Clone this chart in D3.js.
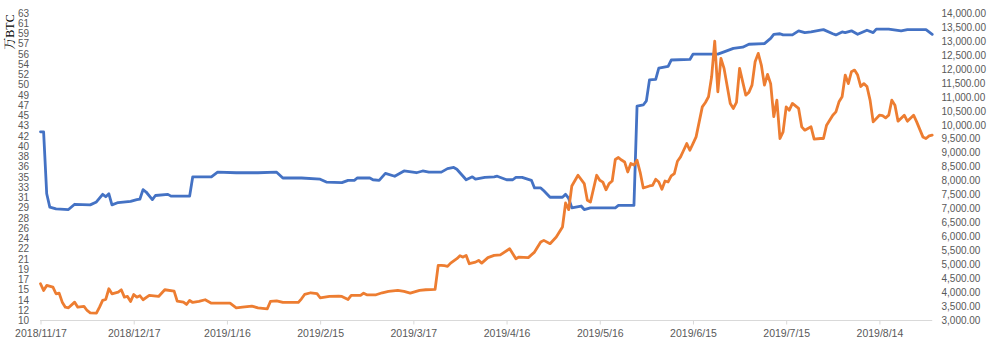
<!DOCTYPE html>
<html>
<head>
<meta charset="utf-8">
<script src="https://cdn.jsdelivr.net/npm/d3@7"></script>
<style>
  body { margin: 0; background: #fff; }
  .axis text { font-family: "Liberation Sans", Arial, sans-serif; fill: #595959; }
  .unit-title { font-family: "Liberation Serif", "Noto Serif CJK SC", "Noto Sans CJK SC", serif; fill: #000; }
</style>
</head>
<body>
<svg id="chart"></svg>
<script>
// x axis tick labels (every 30 days)
const xTickLabels = ['2018/11/17', '2018/12/17', '2019/1/16', '2019/2/15', '2019/3/17',
  '2019/4/16', '2019/5/16', '2019/6/15', '2019/7/15', '2019/8/14'];
const firstDay = '2018/11/17';
const lastDay = '2019/8/31';

// left axis (万BTC): labels shown at 31 evenly spaced lines between 10 and 62.65
const leftMin = 10;
const leftMax = 62.65;
const leftTickLabels = [10, 12, 14, 15, 17, 19, 21, 22, 24, 26, 28, 29, 31, 33, 35, 36,
  38, 40, 42, 43, 45, 47, 49, 50, 52, 54, 56, 57, 59, 61, 63];

// right axis (price)
const rightTicks = [3000, 3500, 4000, 4500, 5000, 5500, 6000, 6500, 7000, 7500, 8000, 8500,
  9000, 9500, 10000, 10500, 11000, 11500, 12000, 12500, 13000, 13500, 14000];

// blue series, left axis
const holdDates = [
  '2018/11/17', '2018/11/18', '2018/11/19', '2018/11/20', '2018/11/22', '2018/11/26', '2018/11/28',
  '2018/12/3', '2018/12/5', '2018/12/7', '2018/12/8', '2018/12/9', '2018/12/10', '2018/12/12', '2018/12/16',
  '2018/12/18', '2018/12/19', '2018/12/20', '2018/12/21', '2018/12/23', '2018/12/24', '2018/12/28', '2018/12/29',
  '2019/1/4', '2019/1/5', '2019/1/11', '2019/1/13', '2019/1/19', '2019/1/26',
  '2019/2/1', '2019/2/3', '2019/2/9', '2019/2/15', '2019/2/17', '2019/2/22', '2019/2/24', '2019/2/26', '2019/2/27',
  '2019/3/3', '2019/3/4', '2019/3/6', '2019/3/8', '2019/3/11', '2019/3/14', '2019/3/18', '2019/3/20', '2019/3/22',
  '2019/3/26', '2019/3/28', '2019/3/30', '2019/3/31',
  '2019/4/2', '2019/4/3', '2019/4/5', '2019/4/6', '2019/4/9', '2019/4/12', '2019/4/13', '2019/4/16', '2019/4/18',
  '2019/4/19', '2019/4/21', '2019/4/24', '2019/4/25', '2019/4/27', '2019/4/28', '2019/4/30',
  '2019/5/4', '2019/5/5', '2019/5/6', '2019/5/7', '2019/5/10', '2019/5/11', '2019/5/13', '2019/5/21', '2019/5/22',
  '2019/5/27', '2019/5/28', '2019/5/30', '2019/5/31',
  '2019/6/1', '2019/6/3', '2019/6/4', '2019/6/7', '2019/6/8', '2019/6/14', '2019/6/15', '2019/6/23', '2019/6/25', '2019/6/28',
  '2019/7/1', '2019/7/3', '2019/7/8', '2019/7/10', '2019/7/11', '2019/7/13', '2019/7/14', '2019/7/17', '2019/7/19',
  '2019/7/21', '2019/7/23', '2019/7/26', '2019/7/27', '2019/7/30', '2019/7/31',
  '2019/8/2', '2019/8/3', '2019/8/5', '2019/8/7', '2019/8/10', '2019/8/12', '2019/8/13', '2019/8/17', '2019/8/21',
  '2019/8/23', '2019/8/29', '2019/8/31'];
const holdValues = [
  42.3, 42.3, 31.7, 29.4, 29.1, 29.0, 29.9,
  29.8, 30.3, 31.6, 31.2, 31.7, 29.8, 30.2, 30.4,
  30.7, 30.8, 32.4, 32.0, 30.7, 31.4, 31.6, 31.3,
  31.3, 34.6, 34.6, 35.4, 35.3, 35.3,
  35.4, 34.4, 34.4, 34.2, 33.7, 33.6, 34.0, 34.0, 34.4,
  34.4, 34.1, 34.0, 35.2, 34.7, 35.6, 35.3, 35.6, 35.4,
  35.4, 36.0, 36.2, 35.9,
  34.7, 34.1, 34.6, 34.2, 34.5, 34.6, 34.7, 34.1, 34.1,
  34.5, 34.5, 34.0, 32.7, 32.7, 32.2, 31.1,
  31.1, 31.6, 30.9, 29.3, 29.6, 29.0, 29.3, 29.3, 29.7,
  29.7, 46.7, 46.9, 47.6,
  51.2, 51.3, 53.2, 53.5, 54.6, 54.7, 55.6, 55.6, 56.0, 56.6,
  56.8, 57.3, 57.4, 58.3, 59.0, 59.1, 58.9, 58.9, 59.6,
  59.3, 59.4, 59.7, 59.8, 59.1, 58.9,
  59.4, 59.3, 59.6, 59.0, 59.7, 59.3, 59.9, 59.9, 59.6,
  59.8, 59.8, 59.0];

// orange series, right axis
const priceDates = [
  '2018/11/17', '2018/11/18', '2018/11/19', '2018/11/21', '2018/11/22', '2018/11/23', '2018/11/24', '2018/11/25',
  '2018/11/26', '2018/11/28', '2018/11/29',
  '2018/12/1', '2018/12/2', '2018/12/3', '2018/12/5', '2018/12/6', '2018/12/7', '2018/12/8', '2018/12/9', '2018/12/10',
  '2018/12/12', '2018/12/13', '2018/12/14', '2018/12/15', '2018/12/16', '2018/12/17', '2018/12/18', '2018/12/19',
  '2018/12/20', '2018/12/22', '2018/12/25', '2018/12/27', '2018/12/30', '2018/12/31',
  '2019/1/2', '2019/1/3', '2019/1/4', '2019/1/5', '2019/1/7', '2019/1/9', '2019/1/11', '2019/1/17', '2019/1/19',
  '2019/1/21', '2019/1/24', '2019/1/26', '2019/1/29', '2019/1/30',
  '2019/2/1', '2019/2/3', '2019/2/8', '2019/2/9', '2019/2/10', '2019/2/12', '2019/2/14', '2019/2/15', '2019/2/18',
  '2019/2/21', '2019/2/22', '2019/2/24', '2019/2/25', '2019/2/28',
  '2019/3/1', '2019/3/2', '2019/3/5', '2019/3/7', '2019/3/9', '2019/3/12', '2019/3/14', '2019/3/16', '2019/3/19',
  '2019/3/21', '2019/3/24', '2019/3/25', '2019/3/26', '2019/3/27', '2019/3/28', '2019/3/29', '2019/3/31',
  '2019/4/1', '2019/4/2', '2019/4/3', '2019/4/4', '2019/4/6', '2019/4/7', '2019/4/8', '2019/4/10', '2019/4/12',
  '2019/4/14', '2019/4/17', '2019/4/19', '2019/4/20', '2019/4/23', '2019/4/25', '2019/4/27', '2019/4/28', '2019/4/30',
  '2019/5/2', '2019/5/4', '2019/5/5', '2019/5/6', '2019/5/7', '2019/5/9', '2019/5/11', '2019/5/12', '2019/5/13',
  '2019/5/15', '2019/5/16', '2019/5/17', '2019/5/18', '2019/5/19', '2019/5/20', '2019/5/21', '2019/5/22', '2019/5/23',
  '2019/5/24', '2019/5/25', '2019/5/26', '2019/5/27', '2019/5/28', '2019/5/29', '2019/5/30',
  '2019/6/1', '2019/6/2', '2019/6/3', '2019/6/4', '2019/6/5', '2019/6/6', '2019/6/7', '2019/6/8', '2019/6/9',
  '2019/6/10', '2019/6/11', '2019/6/12', '2019/6/13', '2019/6/14', '2019/6/15', '2019/6/16', '2019/6/17', '2019/6/18',
  '2019/6/19', '2019/6/20', '2019/6/21', '2019/6/22', '2019/6/23', '2019/6/24', '2019/6/25', '2019/6/27', '2019/6/28',
  '2019/6/29', '2019/6/30',
  '2019/7/2', '2019/7/3', '2019/7/4', '2019/7/5', '2019/7/6', '2019/7/7', '2019/7/8', '2019/7/9', '2019/7/10',
  '2019/7/11', '2019/7/12', '2019/7/13', '2019/7/14', '2019/7/15', '2019/7/16', '2019/7/17', '2019/7/19', '2019/7/20',
  '2019/7/21', '2019/7/23', '2019/7/24', '2019/7/26', '2019/7/27', '2019/7/28', '2019/7/30', '2019/7/31',
  '2019/8/1', '2019/8/2', '2019/8/3', '2019/8/4', '2019/8/5', '2019/8/6', '2019/8/7', '2019/8/8', '2019/8/9',
  '2019/8/10', '2019/8/11', '2019/8/12', '2019/8/14', '2019/8/15', '2019/8/16', '2019/8/17', '2019/8/18', '2019/8/19',
  '2019/8/20', '2019/8/22', '2019/8/23', '2019/8/25', '2019/8/26', '2019/8/28', '2019/8/29', '2019/8/30', '2019/8/31'];
const priceValues = [
  4315, 4075, 4254, 4194, 3956, 3978, 3656, 3477,
  3455, 3656, 3477,
  3502, 3358, 3276, 3262, 3477, 3717, 3752, 4136, 3956,
  4014, 4100, 3835, 3860, 3681, 3932, 3835, 3885,
  3742, 3896, 3860, 4100, 4050, 3692,
  3656, 3573, 3717, 3645, 3681, 3742, 3620, 3620, 3455,
  3477, 3513, 3455, 3419, 3681,
  3700, 3645, 3645, 3777, 3932, 3992, 3960, 3813, 3860,
  3870, 3860, 3752, 3896, 3896,
  3978, 3920, 3920, 3992, 4039, 4075, 4039, 3978, 4075,
  4100, 4111, 4971, 4971, 4960, 4935, 5053, 5210,
  5318, 5268, 5329, 5031, 5089, 5150, 5053, 5250, 5329,
  5350, 5569, 5210, 5268, 5250, 5447, 5806, 5866, 5748,
  5985, 6343, 7203, 6966, 7812, 8195, 7898, 7300, 7239,
  8195, 8016, 7950, 7676, 7898, 7991, 8758, 8830, 8740,
  8672, 8314, 8615, 8560, 8733, 8300, 7741,
  7812, 7830, 8052, 7955, 7694, 7991, 7955, 8173, 8256,
  8697, 8851, 9091, 9330, 9091, 9330, 9568, 10106, 10643,
  10800, 11003, 11719, 12997, 11182, 12377, 12019, 10764, 10585,
  10800, 12019,
  11062, 11159, 11421, 12258, 12556, 12137, 11421, 11803, 11474,
  10290, 10883, 9510, 9750, 10643, 10524, 10764, 10585, 9928,
  9808, 9928, 9485, 9510, 9510, 9987, 10345, 10464,
  10823, 11003, 11779, 11474, 11898, 11958, 11779, 11370, 11474,
  11370, 10883, 10106, 10345, 10330, 10250, 10345, 10883, 10704,
  10130, 10345, 10130, 10345, 10106, 9568, 9510, 9604, 9628];

class DualAxisLineChart {
  constructor(_config) {
    this.config = {
      parentElement: _config.parentElement,
      containerWidth: _config.containerWidth || 1000,
      containerHeight: _config.containerHeight || 351,
      plotTop: 13,
      plotBottom: 320.5,
      xStart: 40.5,     // position of 2018/11/17
      xTickEnd: 879.4,  // position of 2019/8/14
    };
    this.initVis();
  }

  initVis() {
    let vis = this;
    const parse = d3.timeParse('%Y/%m/%d');
    vis.parse = parse;

    vis.svg = d3.select(vis.config.parentElement)
        .attr('width', vis.config.containerWidth)
        .attr('height', vis.config.containerHeight);

    vis.xScale = d3.scaleTime()
        .domain([parse(firstDay), parse(xTickLabels[xTickLabels.length - 1])])
        .range([vis.config.xStart, vis.config.xTickEnd]);

    vis.yLeft = d3.scaleLinear()
        .domain([leftMin, leftMax])
        .range([vis.config.plotBottom, vis.config.plotTop]);

    vis.yRight = d3.scaleLinear()
        .domain([rightTicks[0], rightTicks[rightTicks.length - 1]])
        .range([vis.config.plotBottom, vis.config.plotTop]);

    vis.renderVis();
  }

  renderVis() {
    let vis = this;
    const fmtDate = d3.timeFormat('%Y/%-m/%-d');

    // x axis baseline runs to the last day in the data
    const xEnd = vis.xScale(vis.parse(lastDay));
    vis.svg.append('line')
        .attr('x1', vis.config.xStart - 0.5)
        .attr('x2', xEnd)
        .attr('y1', vis.config.plotBottom)
        .attr('y2', vis.config.plotBottom)
        .attr('stroke', '#d9d9d9')
        .attr('stroke-width', 1);

    const xAxis = d3.axisBottom(vis.xScale)
        .tickValues(xTickLabels.map(vis.parse))
        .tickFormat(fmtDate)
        .tickSize(4)
        .tickPadding(5.5);

    const xAxisG = vis.svg.append('g')
        .attr('class', 'axis x-axis')
        .attr('transform', `translate(0,${vis.config.plotBottom})`)
        .call(xAxis);
    xAxisG.select('.domain').remove();
    xAxisG.selectAll('.tick line').attr('stroke', '#d9d9d9');
    xAxisG.selectAll('text').style('font-size', '10.5px');

    // left axis: evenly spaced lines, rounded labels
    const leftStep = (leftMax - leftMin) / (leftTickLabels.length - 1);
    const leftAxis = d3.axisLeft(vis.yLeft)
        .tickValues(leftTickLabels.map((d, i) => leftMin + i * leftStep))
        .tickFormat((d, i) => leftTickLabels[i])
        .tickSize(0)
        .tickPadding(3);
    const leftG = vis.svg.append('g')
        .attr('class', 'axis y-axis-left')
        .attr('transform', 'translate(32,0)')
        .call(leftAxis);
    leftG.select('.domain').remove();
    leftG.selectAll('text').style('font-size', '10px');

    const rightAxis = d3.axisRight(vis.yRight)
        .tickValues(rightTicks)
        .tickFormat(d3.format(',.2f'))
        .tickSize(0)
        .tickPadding(3);
    const rightG = vis.svg.append('g')
        .attr('class', 'axis y-axis-right')
        .attr('transform', 'translate(938.5,0)')
        .call(rightAxis);
    rightG.select('.domain').remove();
    rightG.selectAll('text').style('font-size', '10px');

    // unit title, rotated
    vis.svg.append('text')
        .attr('class', 'unit-title')
        .attr('transform', 'translate(14,32) rotate(-90)')
        .style('text-anchor', 'middle')
        .style('font-size', '12px')
        .text('万BTC');

    const holdData = holdDates.map((d, i) => ({date: vis.parse(d), value: holdValues[i]}));
    const priceData = priceDates.map((d, i) => ({date: vis.parse(d), value: priceValues[i]}));

    const holdLine = d3.line()
        .x(d => vis.xScale(d.date))
        .y(d => vis.yLeft(d.value));

    const priceLine = d3.line()
        .x(d => vis.xScale(d.date))
        .y(d => vis.yRight(d.value));

    vis.svg.append('path')
        .datum(holdData)
        .attr('fill', 'none')
        .attr('stroke', '#4472c4')
        .attr('stroke-width', 2.8)
        .attr('stroke-linejoin', 'round')
        .attr('stroke-linecap', 'round')
        .attr('d', holdLine);

    vis.svg.append('path')
        .datum(priceData)
        .attr('fill', 'none')
        .attr('stroke', '#ed7d31')
        .attr('stroke-width', 2.8)
        .attr('stroke-linejoin', 'round')
        .attr('stroke-linecap', 'round')
        .attr('d', priceLine);
  }
}

new DualAxisLineChart({parentElement: '#chart'});
</script>
</body>
</html>
